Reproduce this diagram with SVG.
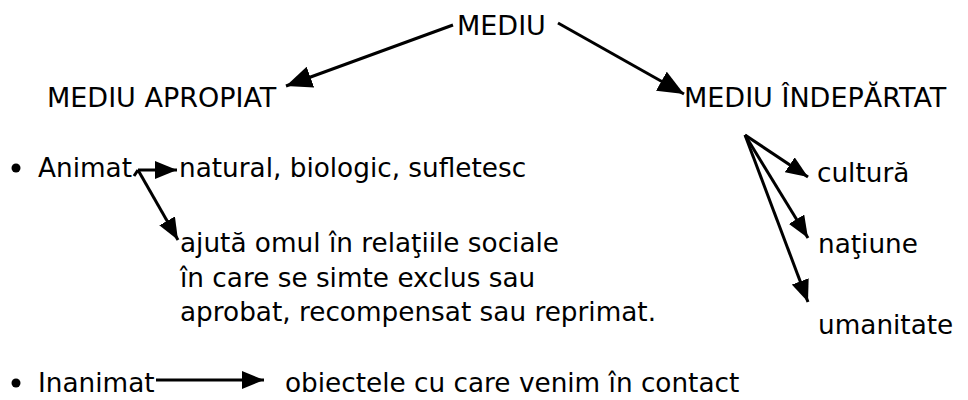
<svg xmlns="http://www.w3.org/2000/svg" width="968" height="400" viewBox="0 0 968 400">
<defs>
<marker id="ah" markerUnits="userSpaceOnUse" markerWidth="24" markerHeight="18" refX="22" refY="9" orient="auto">
<path d="M0,0 L22,9 L0,18 z" fill="#000"/>
</marker>
<marker id="ahl" markerUnits="userSpaceOnUse" markerWidth="28" markerHeight="22" refX="26" refY="11" orient="auto">
<path d="M0,0 L26,11 L0,22 z" fill="#000"/>
</marker>
<style>
text{font-family:"DejaVu Sans","Liberation Sans",sans-serif;fill:#000}
.h{font-size:27px}
.b{font-size:26.3px}
.c{fill:none;stroke:#000;stroke-width:3;marker-end:url(#ah)}
.cl{fill:none;stroke:#000;stroke-width:3;marker-end:url(#ahl)}
.p{fill:none;stroke:#000;stroke-width:3}
</style>
</defs>
<rect width="968" height="400" fill="#fff"/>
<g id="connectors">
<path class="cl" d="M453,25 L286,86"/>
<path class="cl" d="M558,23 L684,94"/>
<path class="p" d="M134,176 L138,170"/>
<path class="c" d="M138,170 L177,170"/>
<path class="c" d="M138,170 L178,240"/>
<path class="c" d="M745,135 L808,177"/>
<path class="c" d="M745,135 L808,238"/>
<path class="c" d="M745,135 L808,302"/>
<path class="c" d="M156,380 L264,380"/>
</g>
<g id="n-mediu"><text class="h" x="457" y="35">MEDIU</text></g>
<g id="n-apropiat"><text class="h" x="47" y="107">MEDIU APROPIAT</text></g>
<g id="n-indepartat"><text class="h" x="684" y="107">MEDIU ÎNDEPĂRTAT</text></g>
<g id="n-animat"><circle cx="16" cy="168" r="4.5"/><text class="b" x="38" y="177">Animat</text></g>
<g id="n-natural"><text class="b" x="179" y="177">natural, biologic, sufletesc</text></g>
<g id="n-ajuta"><text class="b" x="180" y="252">ajută omul în relaţiile sociale</text><text class="b" x="180" y="287">în care se simte exclus sau</text><text class="b" x="180" y="321">aprobat, recompensat sau reprimat.</text></g>
<g id="n-cultura"><text class="b" x="817" y="182">cultură</text></g>
<g id="n-natiune"><text class="b" x="818" y="253">naţiune</text></g>
<g id="n-umanitate"><text class="b" x="818" y="334">umanitate</text></g>
<g id="n-inanimat"><circle cx="16" cy="383" r="4.5"/><text class="b" x="38" y="392">Inanimat</text></g>
<g id="n-obiectele"><text class="b" x="285" y="392">obiectele cu care venim în contact</text></g>
</svg>
